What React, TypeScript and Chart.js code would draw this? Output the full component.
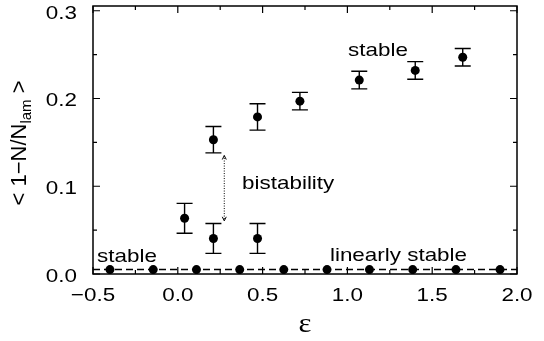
import React, { useEffect, useRef } from "react";
import { Chart, registerables } from "chart.js";

Chart.register(...registerables);

// ---- data ----
const upperX = [0.04, 0.21, 0.47, 0.72, 1.07, 1.4, 1.68];
const upperY = [0.0635, 0.153, 0.179, 0.197, 0.221, 0.232, 0.247];
const upperErr = [0.017, 0.015, 0.015, 0.01, 0.01, 0.01, 0.01];

const lowerX = [0.21, 0.47];
const lowerY = [0.0405, 0.0405];
const lowerErr = [0.017, 0.017];

const linearX = [-0.4, -0.145, 0.11, 0.365, 0.625, 0.88, 1.13, 1.385, 1.64, 1.9];
const linearY = [0.005, 0.005, 0.005, 0.005, 0.005, 0.005, 0.005, 0.005, 0.005, 0.005];

const dashLineX = [-0.5, 2.0];
const dashLineY = [0.005, 0.005];

const xTicks = [-0.5, 0, 0.5, 1, 1.5, 2];
const xTickLabels = ["\u22120.5", "0.0", "0.5", "1.0", "1.5", "2.0"];
const xMinorTicks = [-0.25, 0.25, 0.75, 1.25, 1.75];
const yTicks = [0, 0.1, 0.2, 0.3];
const yTickLabels = ["0.0", "0.1", "0.2", "0.3"];
const yMinorTicks = [0.05, 0.15, 0.25];

const SANS = '"Liberation Sans", Arial, Helvetica, sans-serif';
const SERIF = '"Liberation Serif", "Times New Roman", serif';
const SX = 1.18;

function drawText(ctx: CanvasRenderingContext2D, text: string, x: number, y: number, align: CanvasTextAlign, font: string, sx = SX) {
  ctx.save();
  ctx.translate(x, y);
  ctx.scale(sx, 1);
  ctx.font = font;
  ctx.textAlign = align;
  ctx.textBaseline = "alphabetic";
  ctx.fillStyle = "#000";
  ctx.fillText(text, 0, 0);
  ctx.restore();
}

const overlay = {
  id: "overlay",
  beforeDatasetsDraw(chart: any) {
    const ctx: CanvasRenderingContext2D = chart.ctx;
    const xs = chart.scales.x;
    const ys = chart.scales.y;
    ctx.save();
    ctx.strokeStyle = "#000";
    ctx.lineWidth = 1.4;
    chart.data.datasets.forEach((ds: any) => {
      if (!ds.errors) return;
      ds.data.forEach((p: any, i: number) => {
        const e = ds.errors[i];
        const px = xs.getPixelForValue(p.x);
        const y1 = ys.getPixelForValue(p.y + e);
        const y2 = ys.getPixelForValue(p.y - e);
        const cap = 8;
        ctx.beginPath();
        ctx.moveTo(px, y1);
        ctx.lineTo(px, y2);
        ctx.moveTo(px - cap, y1);
        ctx.lineTo(px + cap, y1);
        ctx.moveTo(px - cap, y2);
        ctx.lineTo(px + cap, y2);
        ctx.stroke();
      });
    });
    ctx.restore();
  },
  afterDraw(chart: any) {
    const ctx: CanvasRenderingContext2D = chart.ctx;
    const xs = chart.scales.x;
    const ys = chart.scales.y;
    const a = chart.chartArea;
    ctx.save();
    ctx.strokeStyle = "#000";
    ctx.lineWidth = 1.5;
    ctx.strokeRect(a.left, a.top, a.right - a.left, a.bottom - a.top);

    const major = 7;
    const minor = 4;
    ctx.lineWidth = 1.2;
    ctx.beginPath();
    const xt = (v: number, len: number) => {
      const px = xs.getPixelForValue(v);
      ctx.moveTo(px, a.bottom);
      ctx.lineTo(px, a.bottom - len);
      ctx.moveTo(px, a.top);
      ctx.lineTo(px, a.top + len);
    };
    const yt = (v: number, len: number) => {
      const py = ys.getPixelForValue(v);
      ctx.moveTo(a.left, py);
      ctx.lineTo(a.left + len, py);
      ctx.moveTo(a.right, py);
      ctx.lineTo(a.right - len, py);
    };
    xTicks.forEach((v) => xt(v, major));
    xMinorTicks.forEach((v) => xt(v, minor));
    yTicks.forEach((v) => yt(v, major));
    yMinorTicks.forEach((v) => yt(v, minor));
    ctx.stroke();

    const tickFont = `19px ${SANS}`;
    xTicks.forEach((v, i) => {
      drawText(ctx, xTickLabels[i], xs.getPixelForValue(v), a.bottom + 27, "center", tickFont);
    });
    yTicks.forEach((v, i) => {
      drawText(ctx, yTickLabels[i], a.left - 16, ys.getPixelForValue(v) + 8, "right", tickFont);
    });

    // x title
    drawText(ctx, "\u03b5", (a.left + a.right) / 2, a.bottom + 58, "center", `28px ${SERIF}`, 1.1);

    // y title with subscript
    ctx.save();
    ctx.translate(26, 143);
    ctx.rotate(-Math.PI / 2);
    ctx.fillStyle = "#000";
    ctx.textBaseline = "alphabetic";
    const big = `22px ${SANS}`;
    const small = `15px ${SANS}`;
    const p1 = "< 1\u2212N/N";
    const p2 = "lam";
    const p3 = " >";
    ctx.font = big;
    const w1 = ctx.measureText(p1).width;
    const w3 = ctx.measureText(p3).width;
    ctx.font = small;
    const w2 = ctx.measureText(p2).width;
    const total = w1 + w2 + w3;
    let cx = -total / 2;
    ctx.textAlign = "left";
    ctx.font = big;
    ctx.fillText(p1, cx, 0);
    cx += w1;
    ctx.font = small;
    ctx.fillText(p2, cx, 5);
    cx += w2;
    ctx.font = big;
    ctx.fillText(p3, cx, 0);
    ctx.restore();

    // annotations
    const annFont = `19px ${SANS}`;
    drawText(ctx, "stable", xs.getPixelForValue(1.004), ys.getPixelForValue(0.2487), "left", annFont);
    drawText(ctx, "bistability", xs.getPixelForValue(0.379), ys.getPixelForValue(0.097), "left", annFont);
    drawText(ctx, "linearly stable", xs.getPixelForValue(0.897), ys.getPixelForValue(0.0148), "left", annFont);
    drawText(ctx, "stable", xs.getPixelForValue(-0.476), ys.getPixelForValue(0.0137), "left", annFont);

    // dotted double arrow
    const ax = xs.getPixelForValue(0.274);
    const ay1 = ys.getPixelForValue(0.135);
    const ay2 = ys.getPixelForValue(0.0606);
    ctx.lineWidth = 1;
    ctx.setLineDash([1, 1.5]);
    ctx.beginPath();
    ctx.moveTo(ax, ay1);
    ctx.lineTo(ax, ay2);
    ctx.stroke();
    ctx.setLineDash([]);
    ctx.beginPath();
    ctx.moveTo(ax - 2, ay1 + 4);
    ctx.lineTo(ax, ay1);
    ctx.lineTo(ax + 2, ay1 + 4);
    ctx.moveTo(ax - 2, ay2 - 4);
    ctx.lineTo(ax, ay2);
    ctx.lineTo(ax + 2, ay2 - 4);
    ctx.stroke();
    ctx.restore();
  },
};

export default function App() {
  const ref = useRef<HTMLCanvasElement | null>(null);
  useEffect(() => {
    if (!ref.current) return;
    const pts = (xa: number[], ya: number[]) => xa.map((x, i) => ({ x, y: ya[i] }));
    const chart = new Chart(ref.current, {
      type: "scatter",
      data: {
        datasets: [
          {
            data: pts(dashLineX, dashLineY),
            showLine: true,
            borderColor: "#000",
            borderWidth: 1.5,
            borderDash: [7, 4],
            pointRadius: 0,
          } as any,
          {
            data: pts(linearX, linearY),
            pointRadius: 4.5,
            backgroundColor: "#000",
            borderColor: "#000",
            borderWidth: 0,
          },
          {
            data: pts(upperX, upperY),
            errors: upperErr,
            pointRadius: 4.5,
            backgroundColor: "#000",
            borderColor: "#000",
            borderWidth: 0,
          } as any,
          {
            data: pts(lowerX, lowerY),
            errors: lowerErr,
            pointRadius: 4.5,
            backgroundColor: "#000",
            borderColor: "#000",
            borderWidth: 0,
          } as any,
        ],
      },
      options: {
        animation: false,
        responsive: false,
        devicePixelRatio: 1,
        layout: { padding: { left: 93, right: 27, top: 6, bottom: 67 } },
        scales: {
          x: { type: "linear", min: -0.5, max: 2.0, display: false },
          y: { type: "linear", min: 0, max: 0.3054, display: false },
        },
        plugins: { legend: { display: false }, tooltip: { enabled: false } },
      },
      plugins: [overlay],
    });
    return () => chart.destroy();
  }, []);
  return (
    <div style={{ position: "absolute", left: 0, top: 0, width: 544, height: 341, background: "#fff" }}>
      <canvas ref={ref} width={544} height={341} style={{ display: "block" }} />
    </div>
  );
}
